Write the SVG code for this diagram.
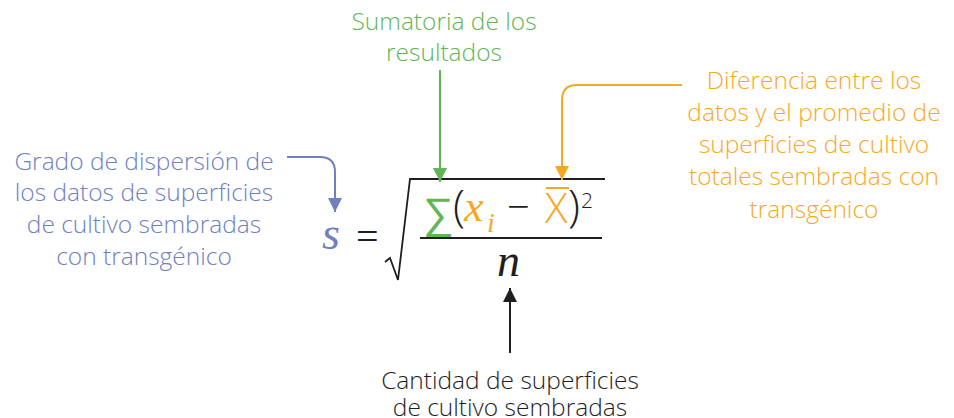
<svg xmlns="http://www.w3.org/2000/svg" width="954" height="418" viewBox="0 0 954 418">
<style>
.lbl{font-family:"Open Sans","Noto Sans",sans-serif;font-weight:300;font-size:24.5px;text-anchor:middle}
.blue{fill:#6f80bd}.green{fill:#62b556}.orange{fill:#f7a823}.black{fill:#1e1e1e}
.conn{fill:none;stroke-width:2}
.m{font-family:"Liberation Serif",serif;font-style:italic}
.ms{font-family:"Open Sans","Noto Sans",sans-serif;font-weight:300}
</style>
<defs>
<marker id="ab" markerUnits="userSpaceOnUse" markerWidth="16" markerHeight="16" refX="14" refY="7" orient="auto"><path d="M0,0 L14,7 L0,14 Z" fill="#6f80bd"/></marker>
<marker id="ag" markerUnits="userSpaceOnUse" markerWidth="16" markerHeight="16" refX="14" refY="7" orient="auto"><path d="M0,0 L14,7 L0,14 Z" fill="#62b556"/></marker>
<marker id="ao" markerUnits="userSpaceOnUse" markerWidth="16" markerHeight="16" refX="14" refY="7" orient="auto"><path d="M0,0 L14,7 L0,14 Z" fill="#f7a823"/></marker>
<marker id="ak" markerUnits="userSpaceOnUse" markerWidth="16" markerHeight="16" refX="14" refY="7" orient="auto"><path d="M0,0 L14,7 L0,14 Z" fill="#1e1e1e"/></marker>
</defs>

<g id="formula">
<text class="m" x="322" y="249" font-size="46" fill="#6f80bd">s</text>
<text x="356" y="250" font-family="Liberation Serif,serif" font-size="40" fill="#1e1e1e">=</text>
<path d="M385,262 L390,258 L398,280 L410,179 L605,179" fill="none" stroke="#1e1e1e" stroke-width="1.8"/>
<text x="423" y="228" font-family="Liberation Sans,sans-serif" font-size="43" fill="#62b556">∑</text>
<text class="ms" x="453" y="222" font-size="44" fill="#1e1e1e">(</text>
<text class="m" x="464" y="221" font-size="44" fill="#f7a823">x</text>
<text class="m" x="487" y="232" font-size="28" fill="#f7a823">i</text>
<text class="ms" x="507" y="221" font-size="40" fill="#1e1e1e">−</text>
<text class="ms" x="545" y="223" font-size="42" fill="#f7a823">X</text>
<line x1="546" y1="188" x2="569" y2="188" stroke="#f7a823" stroke-width="2"/>
<text class="ms" x="568" y="222" font-size="44" fill="#1e1e1e">)</text>
<text class="ms" x="581" y="208" font-size="21" fill="#1e1e1e">2</text>
<line x1="420" y1="238" x2="602" y2="238" stroke="#1e1e1e" stroke-width="2"/>
<text class="m" x="497" y="276" font-size="46" fill="#1e1e1e">n</text>
</g>

<g id="label-sumatoria">
<text class="lbl green" x="444" y="30">Sumatoria de los</text>
<text class="lbl green" x="444" y="61">resultados</text>
</g>

<g id="label-diferencia">
<text class="lbl orange" x="814" y="89">Diferencia entre los</text>
<text class="lbl orange" x="814" y="121">datos y el promedio de</text>
<text class="lbl orange" x="814" y="153">superficies de cultivo</text>
<text class="lbl orange" x="814" y="185">totales sembradas con</text>
<text class="lbl orange" x="814" y="218">transgénico</text>
</g>

<g id="label-grado">
<text class="lbl blue" x="144" y="170">Grado de dispersión de</text>
<text class="lbl blue" x="144" y="201">los datos de superficies</text>
<text class="lbl blue" x="144" y="233">de cultivo sembradas</text>
<text class="lbl blue" x="144" y="265">con transgénico</text>
</g>

<g id="label-cantidad">
<text class="lbl black" x="510" y="389">Cantidad de superficies</text>
<text class="lbl black" x="510" y="416">de cultivo sembradas</text>
</g>

<g id="connectors">
<path class="conn" d="M440,70 L440,182" stroke="#62b556" marker-end="url(#ag)"/>
<path class="conn" d="M682,85 L577,85 Q562,85 562,100 L562,180" stroke="#f7a823" marker-end="url(#ao)"/>
<path class="conn" d="M287,157 L320,157 Q335,157 335,172 L335,212" stroke="#6f80bd" marker-end="url(#ab)"/>
<path class="conn" d="M510,353 L510,288" stroke="#1e1e1e" marker-end="url(#ak)"/>
</g>
</svg>
